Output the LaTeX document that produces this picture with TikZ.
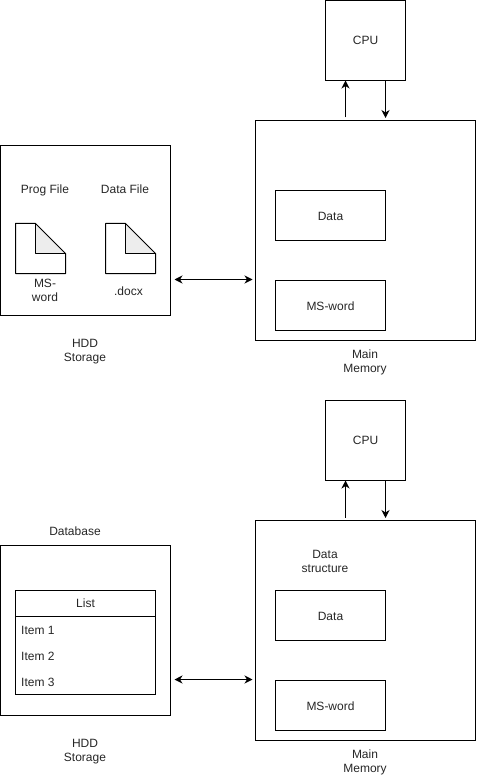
\documentclass[tikz,border=0pt]{standalone}
\usepackage{fontspec}
\setmainfont{Liberation Sans}
\usetikzlibrary{arrows.meta}

\tikzset{
	box/.style = {draw, line width=1pt, minimum width=#1, inner sep=0pt, outer sep=0pt},
	label/.style = {align=center, inner sep=0pt, font=\fontsize{12}{14}\selectfont, text=black!85},
	lowlabel/.style = {label, text height=10.6pt, text depth=0pt},
	link/.style = {line width=1pt, {Stealth[length=8pt,width=8pt,inset=2.5pt]}-{Stealth[length=8pt,width=8pt,inset=2.5pt]}},
	tolink/.style = {line width=1pt, -{Stealth[length=8pt,width=8pt,inset=2.5pt]}}
}

\begin{document}
\begin{tikzpicture}[x=1pt, y=-1pt]
		\useasboundingbox (0,0) rectangle (476,775);

		% top half
		\node [box=80pt, minimum height=80pt, label] (cpuA) at (365.5,40.5) {CPU};
		\node [box=220pt, minimum height=220pt] (mainA) at (365.5,230.5) {};
		\node [box=110pt, minimum height=50pt, lowlabel] (dataA) at (330.5,215.5) {Data};
		\node [box=110pt, minimum height=50pt, lowlabel] (wordA) at (330.5,305.5) {MS-word};
		\node [box=170pt, minimum height=170pt] (hddA) at (85.5,230.5) {};
		\draw [tolink, shorten <=3pt] ([xshift=-20pt]mainA.north) -- ([xshift=-20pt]cpuA.south);
		\draw [tolink, shorten >=2.5pt] ([xshift=20pt]cpuA.south) -- ([xshift=20pt]mainA.north);
		\draw [link, shorten <=4pt, shorten >=3pt] ([yshift=-49pt]hddA.east) -- ([yshift=-49pt]mainA.west);

		% the two files
		\fill [black!7] (35.5,223.5) -- (65.5,253.5) -- (35.5,253.5) -- cycle;
		\draw [line width=1pt, line join=round] (15.5,223.5) -- (35.5,223.5) -- (65.5,253.5) -- (65.5,273.5) -- (15.5,273.5) -- cycle;
		\draw [line width=1pt, line join=round] (35.5,223.5) -- (35.5,253.5) -- (65.5,253.5);
		\fill [black!7] (125.5,223.5) -- (155.5,253.5) -- (125.5,253.5) -- cycle;
		\draw [line width=1pt, line join=round] (105.5,223.5) -- (125.5,223.5) -- (155.5,253.5) -- (155.5,273.5) -- (105.5,273.5) -- cycle;
		\draw [line width=1pt, line join=round] (125.5,223.5) -- (125.5,253.5) -- (155.5,253.5);

		\node [label] (progA) at (45,190.5) {Prog File};
		\node [label] (dfileA) at (125,189.5) {Data File};
		\node [label] (msA) at (45,290.5) {MS-\\word};
		\node [label] (docxA) at (128.5,291.5) {.docx};
		\node [label] (hddtextA) at (85,351.5) {HDD\\Storage};
		\node [label] (memtextA) at (365,362) {Main\\Memory};

		% bottom half
		\node [box=80pt, minimum height=80pt, label] (cpuB) at (365.5,440.5) {CPU};
		\node [box=220pt, minimum height=220pt] (mainB) at (365.5,630.5) {};
		\node [box=110pt, minimum height=50pt, lowlabel] (dataB) at (330.5,615.5) {Data};
		\node [box=110pt, minimum height=50pt, lowlabel] (wordB) at (330.5,705.5) {MS-word};
		\node [box=170pt, minimum height=170pt] (hddB) at (85.5,630.5) {};
		\draw [tolink, shorten <=3pt] ([xshift=-20pt]mainB.north) -- ([xshift=-20pt]cpuB.south);
		\draw [tolink, shorten >=2.5pt] ([xshift=20pt]cpuB.south) -- ([xshift=20pt]mainB.north);
		\draw [link, shorten <=4pt, shorten >=3pt] ([yshift=-49pt]hddB.east) -- ([yshift=-49pt]mainB.west);

		% the list
		\node [box=140pt, minimum height=26pt, label] (listhead) at (85.5,603.5) {List};
		\node [box=140pt, minimum height=78pt] (listbody) at (85.5,655.5) {};
		\node [label, anchor=west] (itemA) at (21,630.5) {Item 1};
		\node [label, anchor=west] (itemB) at (21,656.5) {Item 2};
		\node [label, anchor=west] (itemC) at (21,682.5) {Item 3};

		\node [label] (dbtext) at (75,531) {Database};
		\node [label] (structtext) at (325,561.5) {Data\\structure};
		\node [label] (hddtextB) at (85,751.5) {HDD\\Storage};
		\node [label] (memtextB) at (365,762) {Main\\Memory};
	\end{tikzpicture}
\end{document}
